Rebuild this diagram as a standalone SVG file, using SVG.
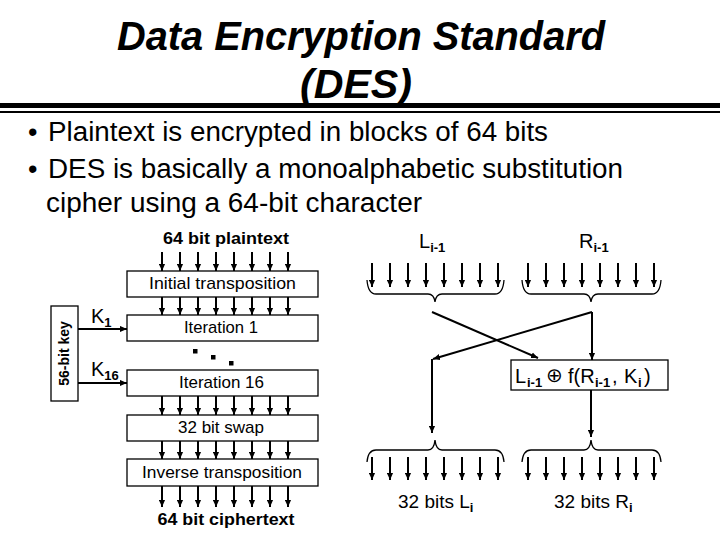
<svg xmlns="http://www.w3.org/2000/svg" width="720" height="540" viewBox="0 0 720 540">
<defs>
<marker id="ah" viewBox="0 0 8 8" refX="8" refY="4" markerWidth="7" markerHeight="7" markerUnits="userSpaceOnUse" orient="auto">
<path d="M0,0.5 L8,4 L0,7.5 z" fill="#000"/>
</marker>
<style>
.t{font-family:"Liberation Sans",Arial,sans-serif;fill:#000}
.title{font-size:41px;font-weight:bold;font-style:italic}
.bul{font-size:27px}
.lbl{font-size:17px}
.b{font-weight:bold}
.big{font-size:19px}
.bx{font-size:20px}
.sub{font-size:13px;font-weight:bold}
.box{fill:#fff;stroke:#000;stroke-width:1.3}
.ar{stroke:#000;stroke-width:2;fill:none;marker-end:url(#ah)}
.br{stroke:#000;stroke-width:1.3;fill:none}
</style>
</defs>
<rect width="720" height="540" fill="#fff"/>

<g id="header">
<text class="t title" x="361" y="50" text-anchor="middle" textLength="488" lengthAdjust="spacingAndGlyphs">Data Encryption Standard</text>
<text class="t title" x="356" y="98" text-anchor="middle" textLength="112" lengthAdjust="spacingAndGlyphs">(DES)</text>
<rect x="0" y="103" width="720" height="5" fill="#000"/>
<rect x="0" y="111" width="720" height="2" fill="#000"/>
</g>

<g id="bullets">
<text class="t bul" x="28" y="141">•</text>
<text class="t bul" x="48" y="141" textLength="500" lengthAdjust="spacingAndGlyphs">Plaintext is encrypted in blocks of 64 bits</text>
<text class="t bul" x="28" y="178">•</text>
<text class="t bul" x="48" y="178" textLength="575" lengthAdjust="spacingAndGlyphs">DES is basically a monoalphabetic substitution</text>
<text class="t bul" x="46" y="212" textLength="376" lengthAdjust="spacingAndGlyphs">cipher using a 64-bit character</text>
</g>

<g id="connectors">
<g id="left-arrows">
<line class="ar" x1="162" y1="252" x2="162" y2="271"/><line class="ar" x1="180" y1="252" x2="180" y2="271"/><line class="ar" x1="198" y1="252" x2="198" y2="271"/><line class="ar" x1="216" y1="252" x2="216" y2="271"/><line class="ar" x1="234" y1="252" x2="234" y2="271"/><line class="ar" x1="252" y1="252" x2="252" y2="271"/><line class="ar" x1="270" y1="252" x2="270" y2="271"/><line class="ar" x1="288" y1="252" x2="288" y2="271"/>
<line class="ar" x1="162" y1="297" x2="162" y2="315"/><line class="ar" x1="180" y1="297" x2="180" y2="315"/><line class="ar" x1="198" y1="297" x2="198" y2="315"/><line class="ar" x1="216" y1="297" x2="216" y2="315"/><line class="ar" x1="234" y1="297" x2="234" y2="315"/><line class="ar" x1="252" y1="297" x2="252" y2="315"/><line class="ar" x1="270" y1="297" x2="270" y2="315"/><line class="ar" x1="288" y1="297" x2="288" y2="315"/>
<line class="ar" x1="162" y1="396" x2="162" y2="415"/><line class="ar" x1="180" y1="396" x2="180" y2="415"/><line class="ar" x1="198" y1="396" x2="198" y2="415"/><line class="ar" x1="216" y1="396" x2="216" y2="415"/><line class="ar" x1="234" y1="396" x2="234" y2="415"/><line class="ar" x1="252" y1="396" x2="252" y2="415"/><line class="ar" x1="270" y1="396" x2="270" y2="415"/><line class="ar" x1="288" y1="396" x2="288" y2="415"/>
<line class="ar" x1="162" y1="441" x2="162" y2="459"/><line class="ar" x1="180" y1="441" x2="180" y2="459"/><line class="ar" x1="198" y1="441" x2="198" y2="459"/><line class="ar" x1="216" y1="441" x2="216" y2="459"/><line class="ar" x1="234" y1="441" x2="234" y2="459"/><line class="ar" x1="252" y1="441" x2="252" y2="459"/><line class="ar" x1="270" y1="441" x2="270" y2="459"/><line class="ar" x1="288" y1="441" x2="288" y2="459"/>
<line class="ar" x1="162" y1="486" x2="162" y2="507"/><line class="ar" x1="180" y1="486" x2="180" y2="507"/><line class="ar" x1="198" y1="486" x2="198" y2="507"/><line class="ar" x1="216" y1="486" x2="216" y2="507"/><line class="ar" x1="234" y1="486" x2="234" y2="507"/><line class="ar" x1="252" y1="486" x2="252" y2="507"/><line class="ar" x1="270" y1="486" x2="270" y2="507"/><line class="ar" x1="288" y1="486" x2="288" y2="507"/>
<line class="ar" x1="78" y1="329" x2="127" y2="329"/>
<line class="ar" x1="78" y1="383" x2="127" y2="383"/>
</g>
<g id="right-arrows">
<line class="ar" x1="372" y1="263" x2="372" y2="287"/><line class="ar" x1="390" y1="263" x2="390" y2="287"/><line class="ar" x1="408" y1="263" x2="408" y2="287"/><line class="ar" x1="426" y1="263" x2="426" y2="287"/><line class="ar" x1="444" y1="263" x2="444" y2="287"/><line class="ar" x1="462" y1="263" x2="462" y2="287"/><line class="ar" x1="480" y1="263" x2="480" y2="287"/><line class="ar" x1="498" y1="263" x2="498" y2="287"/>
<line class="ar" x1="528" y1="263" x2="528" y2="287"/><line class="ar" x1="546" y1="263" x2="546" y2="287"/><line class="ar" x1="564" y1="263" x2="564" y2="287"/><line class="ar" x1="582" y1="263" x2="582" y2="287"/><line class="ar" x1="600" y1="263" x2="600" y2="287"/><line class="ar" x1="618" y1="263" x2="618" y2="287"/><line class="ar" x1="636" y1="263" x2="636" y2="287"/><line class="ar" x1="654" y1="263" x2="654" y2="287"/>
<line class="ar" x1="372" y1="457" x2="372" y2="480"/><line class="ar" x1="390" y1="457" x2="390" y2="480"/><line class="ar" x1="408" y1="457" x2="408" y2="480"/><line class="ar" x1="426" y1="457" x2="426" y2="480"/><line class="ar" x1="444" y1="457" x2="444" y2="480"/><line class="ar" x1="462" y1="457" x2="462" y2="480"/><line class="ar" x1="480" y1="457" x2="480" y2="480"/><line class="ar" x1="498" y1="457" x2="498" y2="480"/>
<line class="ar" x1="528" y1="457" x2="528" y2="480"/><line class="ar" x1="546" y1="457" x2="546" y2="480"/><line class="ar" x1="564" y1="457" x2="564" y2="480"/><line class="ar" x1="582" y1="457" x2="582" y2="480"/><line class="ar" x1="600" y1="457" x2="600" y2="480"/><line class="ar" x1="618" y1="457" x2="618" y2="480"/><line class="ar" x1="636" y1="457" x2="636" y2="480"/><line class="ar" x1="654" y1="457" x2="654" y2="480"/>
</g>
<g id="braces">
<path class="br" d="M367,280 Q368,294 376,294 L428,294 Q434,294 435,302 Q436,294 442,294 L495,294 Q503,294 504,280"/>
<path class="br" d="M522,280 Q523,294 531,294 L584,294 Q590,294 591,302 Q592,294 598,294 L652,294 Q660,294 661,280"/>
<path class="br" d="M367,462 Q368,450 376,450 L428,450 Q434,450 435,440 Q436,450 442,450 L495,450 Q503,450 504,462"/>
<path class="br" d="M522,462 Q523,450 531,450 L584,450 Q590,450 591,440 Q592,450 598,450 L652,450 Q660,450 661,462"/>
</g>
<g id="crossing">
<line class="ar" x1="432" y1="312" x2="538" y2="358"/>
<line class="ar" x1="592" y1="312" x2="433" y2="359"/>
<line class="ar" x1="432" y1="359" x2="432" y2="433"/>
<line class="ar" x1="592" y1="312" x2="592" y2="360"/>
<line class="ar" x1="591" y1="390" x2="591" y2="437"/>
</g>
</g>

<g id="plaintext-label"><text class="t lbl b" x="226" y="244" text-anchor="middle" textLength="126" lengthAdjust="spacingAndGlyphs">64 bit plaintext</text></g>

<g id="initial-transposition">
<rect class="box" x="127" y="271" width="191" height="26"/>
<text class="t lbl" x="222.5" y="289" text-anchor="middle" textLength="147" lengthAdjust="spacingAndGlyphs">Initial transposition</text>
</g>

<g id="iteration-1">
<rect class="box" x="127" y="315" width="191" height="26"/>
<text class="t lbl" x="221" y="333" text-anchor="middle" textLength="74" lengthAdjust="spacingAndGlyphs">Iteration 1</text>
</g>

<g id="dots">
<rect x="193" y="349" width="4.5" height="4.5"/>
<rect x="211" y="355" width="4.5" height="4.5"/>
<rect x="229" y="361" width="4.5" height="4.5"/>
</g>

<g id="iteration-16">
<rect class="box" x="127" y="370" width="191" height="26"/>
<text class="t lbl" x="221.5" y="388" text-anchor="middle" textLength="85" lengthAdjust="spacingAndGlyphs">Iteration 16</text>
</g>

<g id="swap">
<rect class="box" x="127" y="415" width="191" height="26"/>
<text class="t lbl" x="221" y="433" text-anchor="middle" textLength="86" lengthAdjust="spacingAndGlyphs">32 bit swap</text>
</g>

<g id="inverse-transposition">
<rect class="box" x="127" y="459" width="191" height="27"/>
<text class="t lbl" x="222" y="478" text-anchor="middle" textLength="160" lengthAdjust="spacingAndGlyphs">Inverse transposition</text>
</g>

<g id="ciphertext-label"><text class="t lbl b" x="226" y="525" text-anchor="middle" textLength="137" lengthAdjust="spacingAndGlyphs">64 bit ciphertext</text></g>

<g id="key">
<rect class="box" x="51" y="306" width="27" height="95"/>
<text class="t b" font-size="14" transform="translate(69,353.5) rotate(-90)" text-anchor="middle">56-bit key</text>
</g>

<g id="k-labels">
<text class="t bx" x="91" y="323">K<tspan class="sub" dy="4">1</tspan></text>
<text class="t bx" x="91" y="376">K<tspan class="sub" dy="4">16</tspan></text>
</g>

<g id="lr-labels">
<text class="t bx" x="419" y="248">L<tspan class="sub" dy="4">i-1</tspan></text>
<text class="t bx" x="579" y="248">R<tspan class="sub" dy="4">i-1</tspan></text>
</g>

<g id="f-box">
<rect class="box" x="511" y="360" width="157" height="30"/>
<text class="t bx" y="383"><tspan x="515">L</tspan><tspan class="sub" x="527" dy="4">i-1</tspan><tspan x="546" dy="-5" font-family="DejaVu Sans" font-weight="normal" font-size="20">⊕</tspan><tspan x="568" dy="1">f(R</tspan><tspan class="sub" x="595" dy="4">i-1</tspan><tspan x="612" dy="-4">,</tspan><tspan x="624">K</tspan><tspan class="sub" x="638" dy="4">i</tspan><tspan x="644" dy="-4">)</tspan></text>
</g>

<g id="out-labels">
<text class="t big" x="398" y="508">32 bits L<tspan class="sub" dy="4">i</tspan></text>
<text class="t big" x="554" y="508">32 bits R<tspan class="sub" dy="4">i</tspan></text>
</g>
</svg>
